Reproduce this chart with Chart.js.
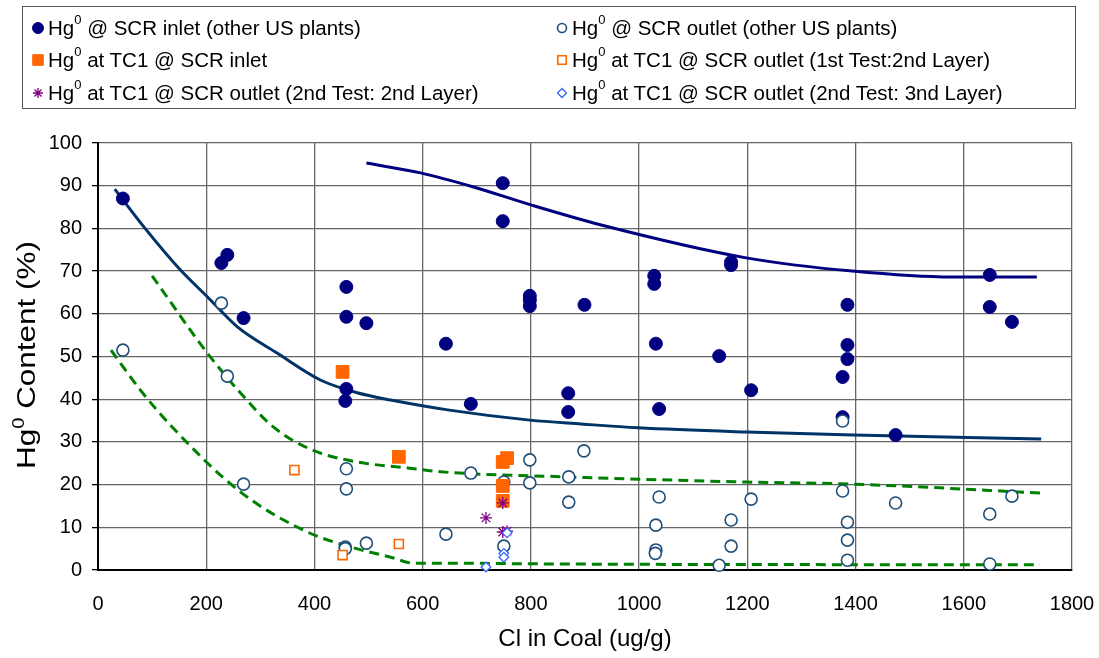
<!DOCTYPE html>
<html>
<head>
<meta charset="utf-8">
<script src="https://cdn.jsdelivr.net/npm/chart.js@4/dist/chart.umd.min.js"></script>
<style>
  body { margin: 0; background: #fff; }
  #wrap { position: relative; width: 1099px; height: 658px; }
  #legendBox { position: absolute; left: 22px; top: 6px; width: 1054px; height: 103px;
    border: 1.5px solid #555; box-sizing: border-box; }
  .item { position: absolute; height: 24px; display: flex; align-items: center; white-space: nowrap;
    font-family: 'Liberation Sans', Arial, sans-serif; font-size: 20.5px; color: #000; }
  .item canvas { margin-right: 2px; }
  .item sup { font-size: 13px; position: relative; top: -3px; vertical-align: top; line-height: 1; }
</style>
</head>
<body>
<div id="wrap">
  <canvas id="chart" width="1099" height="658"></canvas>
  <div id="legendBox"></div>
</div>
<script>
// Hg0 at SCR inlet / outlet, other US plants  [Cl ug/g, Hg0 %]
const inletOther = [
  [46, 87.0], [228, 71.9], [239, 73.8], [269, 59.0], [459, 66.3], [459, 59.3], [496, 57.8],
  [459, 42.4], [457, 39.6], [643, 53.0], [689, 38.9], [748, 90.6], [748, 81.7], [798, 64.2],
  [798, 63.2], [798, 61.8], [899, 62.1], [869, 41.4], [869, 37.0], [1028, 68.9], [1028, 67.0],
  [1031, 53.0], [1037, 37.7], [1148, 50.1], [1170, 72.1], [1170, 71.4], [1207, 42.1],
  [1385, 62.1], [1385, 52.7], [1385, 49.4], [1376, 45.2], [1376, 35.8], [1474, 31.6],
  [1648, 69.1], [1648, 61.6], [1689, 58.1]
];
const outletOther = [
  [46, 51.5], [228, 62.5], [239, 45.4], [269, 20.1], [459, 23.7], [459, 19.0], [457, 5.4],
  [457, 5.0], [496, 6.3], [643, 8.4], [689, 22.7], [750, 20.6], [750, 5.6], [798, 25.8],
  [798, 20.4], [870, 21.8], [870, 15.9], [898, 27.9], [1037, 17.1], [1031, 10.5], [1031, 4.7],
  [1030, 3.9], [1148, 1.1], [1170, 11.7], [1170, 5.6], [1207, 16.6], [1376, 34.9], [1376, 18.5],
  [1385, 11.2], [1385, 7.0], [1385, 2.3], [1474, 15.7], [1648, 13.1], [1689, 17.3], [1648, 1.4]
];
// TC1 tests
const tc1Inlet = [[452, 46.4], [556, 26.5], [756, 26.2], [748, 25.3], [748, 19.7], [748, 16.2]];
const tc1Out1st2nd = [[363, 23.4], [452, 3.5], [556, 6.1]];
const tc1Out2nd2nd = [[748, 15.7], [717, 12.2], [748, 8.9], [756, 9.1]];
const tc1Out2nd3rd = [[750, 3.9], [750, 3.0], [717, 0.7], [756, 8.7]];
// trend curves
const trendInletUpper = [[496, 95.3], [596, 93.0], [694, 89.7], [800, 85.5], [930, 80.8],
  [1198, 73.1], [1394, 70.0], [1578, 68.6], [1735, 68.6]];
const trendInletLower = [[31, 89.2], [87, 80.0], [152, 70.3], [202, 64.0], [257, 57.0],
  [331, 50.8], [411, 44.5], [479, 41.5], [541, 39.8], [646, 37.5], [798, 35.1], [893, 34.2],
  [998, 33.3], [1198, 32.3], [1396, 31.6], [1743, 30.7]];
const trendOutletUpper = [[100, 68.9], [202, 50.8], [263, 41.5], [324, 33.5], [396, 28.1],
  [479, 25.3], [572, 23.9], [633, 23.0], [869, 21.8], [1198, 20.6], [1396, 20.1], [1748, 18.0]];
const trendOutletLower = [[24, 51.5], [78, 42.2], [137, 33.5], [263, 18.3], [387, 8.9],
  [472, 5.2], [541, 3.0], [583, 1.6], [633, 1.6], [856, 1.4], [1741, 1.2]];

const xTicks = [0, 200, 400, 600, 800, 1000, 1200, 1400, 1600, 1800];

const FONT = "'Liberation Sans', Arial, sans-serif";
Chart.defaults.font.family = FONT;
Chart.defaults.color = '#000';

const pts = arr => arr.map(p => ({ x: p[0], y: p[1] }));

function trend(data, color, dashed) {
  return {
    data: pts(data), showLine: true, pointRadius: 0, borderColor: color, borderWidth: 3,
    borderDash: dashed ? [10, 6] : [], cubicInterpolationMode: 'monotone', fill: false, order: 10
  };
}

const series = [
  { label: ['Hg', '0', ' @ SCR inlet (other US plants)'], data: pts(inletOther), pointStyle: 'circle',
    pointRadius: 6.5, backgroundColor: '#000080', borderColor: '#000080', pointBorderWidth: 1, order: 6, legendR: 5.5 },
  { label: ['Hg', '0', ' @ SCR outlet (other US plants)'], data: pts(outletOther), pointStyle: 'circle',
    pointRadius: 6, backgroundColor: '#ffffff', borderColor: '#1F4E79', pointBorderWidth: 1.6, order: 5, legendR: 4.5 },
  { label: ['Hg', '0', ' at TC1 @ SCR inlet'], data: pts(tc1Inlet), pointStyle: 'rect',
    pointRadius: 9, backgroundColor: '#FF6600', borderColor: '#FF6600', pointBorderWidth: 1, order: 3, legendR: 7.5 },
  { label: ['Hg', '0', ' at TC1 @ SCR outlet (1st Test:2nd Layer)'], data: pts(tc1Out1st2nd), pointStyle: 'rect',
    pointRadius: 6.4, backgroundColor: '#ffffff', borderColor: '#FF6600', pointBorderWidth: 1.6, order: 3, legendR: 6 },
  { label: ['Hg', '0', ' at TC1 @ SCR outlet (2nd Test: 2nd Layer)'], data: pts(tc1Out2nd2nd), pointStyle: 'star',
    pointRadius: 6, backgroundColor: '#800080', borderColor: '#800080', pointBorderWidth: 1.3, order: 2, legendR: 5 },
  { label: ['Hg', '0', ' at TC1 @ SCR outlet (2nd Test: 3nd Layer)'], data: pts(tc1Out2nd3rd), pointStyle: 'rectRot',
    pointRadius: 4.8, backgroundColor: '#ffffff', borderColor: '#3366FF', pointBorderWidth: 1.3, order: 1, legendR: 4.5 }
];

const datasets = series.map(s => ({
  label: s.label.join(''), data: s.data, pointStyle: s.pointStyle, pointRadius: s.pointRadius,
  pointBackgroundColor: s.backgroundColor, pointBorderColor: s.borderColor,
  pointBorderWidth: s.pointBorderWidth, showLine: false, order: s.order, clip: false
})).concat([
  trend(trendInletUpper, '#000080', false),
  trend(trendInletLower, '#003366', false),
  trend(trendOutletUpper, '#008000', true),
  trend(trendOutletLower, '#008000', true)
]);

// y axis title with a real superscript
const yTitle = {
  id: 'yTitle',
  afterDraw(chart) {
    const ctx = chart.ctx;
    const big = '25px ' + FONT, small = '16px ' + FONT;
    ctx.save();
    ctx.font = big;
    const w1 = ctx.measureText('Hg').width;
    const w3 = ctx.measureText(' Content (%)').width;
    ctx.font = small;
    const w2 = ctx.measureText('0').width;
    const total = w1 + w2 + w3;
    ctx.translate(28, 355);
    ctx.rotate(-Math.PI / 2);
    ctx.scale(228 / total, 1);
    ctx.fillStyle = '#000';
    ctx.textBaseline = 'middle';
    let x = -total / 2;
    ctx.font = big; ctx.fillText('Hg', x, 0); x += w1;
    ctx.font = small; ctx.fillText('0', x, -8); x += w2;
    ctx.font = big; ctx.fillText(' Content (%)', x, 0);
    ctx.restore();
  }
};

new Chart(document.getElementById('chart'), {
  type: 'scatter',
  data: { datasets },
  options: {
    responsive: false,
    animation: false,
    devicePixelRatio: 1,
    layout: { padding: { top: 143, right: 27, left: 0, bottom: 0 } },
    plugins: { legend: { display: false }, tooltip: { enabled: false } },
    scales: {
      x: {
        type: 'linear', min: 0, max: 1800,
        afterBuildTicks: s => { s.ticks = xTicks.map(v => ({ value: v })); },
        ticks: { font: { size: 20 }, color: '#000', padding: 22, maxRotation: 0, callback: v => String(v) },
        grid: { color: '#666', lineWidth: 1.3, drawTicks: false },
        border: { color: '#000', width: 2 },
        title: { display: true, text: 'Cl in Coal (ug/g)', font: { size: 24 }, color: '#000',
          padding: { top: 0, bottom: 4 } },
        afterFit: s => { s.height = 88; s.paddingLeft = 0; s.paddingRight = 0; }
      },
      y: {
        min: 0, max: 100,
        ticks: { stepSize: 10, font: { size: 20 }, color: '#000', padding: 10, callback: v => String(v) },
        grid: { color: '#666', lineWidth: 1.3, tickLength: 6, tickColor: '#000' },
        border: { color: '#000', width: 2 },
        afterFit: s => { s.width = 98; s.paddingTop = 0; s.paddingBottom = 0; }
      }
    }
  },
  plugins: [yTitle]
});

// two-column legend, text as HTML so the superscript stays real text
const wrap = document.getElementById('wrap');
const colX = [30, 554];
const rowY = [16, 48, 81];
series.forEach((s, i) => {
  const item = document.createElement('div');
  item.className = 'item';
  item.style.left = colX[i % 2] + 'px';
  item.style.top = rowY[Math.floor(i / 2)] + 'px';
  const c = document.createElement('canvas');
  c.width = 16; c.height = 20;
  const ctx = c.getContext('2d');
  ctx.fillStyle = s.backgroundColor;
  ctx.strokeStyle = s.borderColor;
  ctx.lineWidth = s.pointBorderWidth;
  Chart.helpers.drawPoint(ctx, { pointStyle: s.pointStyle, radius: s.legendR, borderWidth: s.pointBorderWidth, rotation: 0 }, 8, 10);
  item.appendChild(c);
  const t = document.createElement('span');
  t.innerHTML = s.label[0] + '<sup>' + s.label[1] + '</sup>' + s.label[2];
  item.appendChild(t);
  wrap.appendChild(item);
});
</script>
</body>
</html>
